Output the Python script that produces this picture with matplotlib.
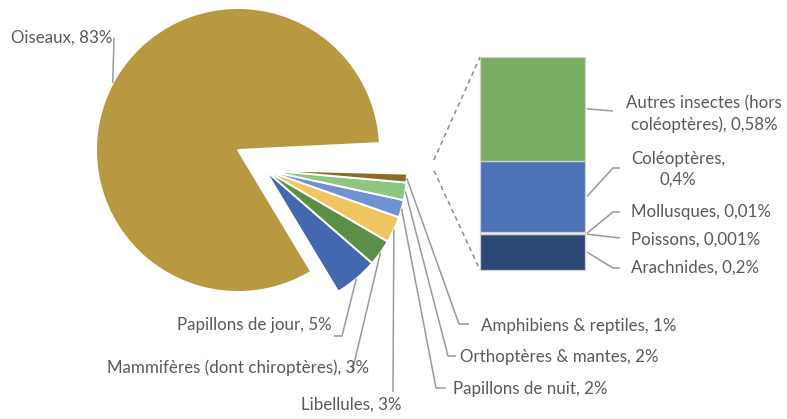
import numpy as np
import matplotlib
matplotlib.use("Agg")
import matplotlib.pyplot as plt

# ---- données ----
pie_labels = ["Oiseaux", "Papillons de jour", "Mammifères (dont chiroptères)", "Libellules",
              "Papillons de nuit", "Orthoptères & mantes", "Amphibiens & reptiles", "Autres"]
pie_values = [83, 5, 3, 3, 2, 2, 1, 1.191]
pie_text = ["83%", "5%", "3%", "3%", "2%", "2%", "1%", ""]
pie_colors = ["#B89841", "#4468B0", "#5B8F47", "#EEC55E", "#7092D2", "#8DC77F", "#8B6A2B", "none"]

bar_labels = ["Arachnides", "Poissons", "Mollusques", "Coléoptères", "Autres insectes (hors\ncoléoptères)"]
bar_values = [0.2, 0.001, 0.01, 0.4, 0.58]
bar_text = ["0,2%", "0,001%", "0,01%", "0,4%", "0,58%"]
bar_colors = ["#2C4875", "#FFFFFF", "#FFFFFF", "#4E72B8", "#78AD62"]

W, H = 787, 419
TXT = "#595959"
LINE = "#999999"
FONT = "Lato"
FS = 12.2


def Y(y):
    # coordonnées image -> coordonnées données
    return H - y


fig = plt.figure(figsize=(W / 100, H / 100), dpi=100)
ax = fig.add_axes([0, 0, 1, 1])

R = 142
wedges, _ = ax.pie(pie_values, colors=pie_colors, startangle=2.8, counterclock=True,
                   center=(238, Y(150)), radius=R,
                   wedgeprops=dict(edgecolor="white", linewidth=1.4))
wedges[-1].set_edgecolor("none")

# groupe des petites parts décalé
for w in wedges[1:-1]:
    w.set_center((265, Y(170)))
wedges[-1].set_center((292, Y(167)))


def arc_point(w, ang=None):
    if ang is None:
        ang = (w.theta1 + w.theta2) / 2
    cx, cy = w.center
    a = np.deg2rad(ang)
    return cx + w.r * np.cos(a), cy + w.r * np.sin(a)


# étiquettes du camembert : (points intermédiaires image, position texte, alignement)
pie_layout = [
    ([(114, 38)], (112, 38), "right"),
    ([(342, 336), (334, 336)], (332, 325), "right"),
    ([(352, 372)], (369, 368), "right"),
    ([(393, 392)], (351, 405), "center"),
    ([(436, 388), (446, 388)], (453, 389), "left"),
    ([(448, 356), (456, 356)], (460, 357), "left"),
    ([(459, 324), (469, 324)], (481, 326), "left"),
]
for i, (pts, tpos, ha) in enumerate(pie_layout):
    x0, y0 = arc_point(wedges[i])
    xs = [x0] + [p[0] for p in pts]
    ys = [y0] + [Y(p[1]) for p in pts]
    ax.plot(xs, ys, color=LINE, lw=1.1, solid_capstyle="butt")
    ax.text(tpos[0], Y(tpos[1]), f"{pie_labels[i]}, {pie_text[i]}", ha=ha, va="center",
            fontsize=FS, color=TXT, family=FONT)

# barre empilée
scale = 213 / sum(bar_values)
bar_x, bar_w = 532.5, 105
bottoms = Y(270) + np.concatenate([[0], np.cumsum(bar_values)[:-1]]) * scale
heights = np.array(bar_values) * scale
ax.bar([bar_x] * len(bar_values), heights, width=bar_w, bottom=bottoms,
       color=bar_colors, edgecolor="#D0D0D0", linewidth=0.9)

# lignes pointillées de liaison
p_top = arc_point(wedges[-1], wedges[-1].theta2)
p_bot = arc_point(wedges[-1], wedges[-1].theta1)
left = bar_x - bar_w / 2
ax.plot([p_top[0], left], [p_top[1], bottoms[-1] + heights[-1]], ls=(0, (3, 2.5)), color="#8C8C8C", lw=1.1)
ax.plot([p_bot[0], left], [p_bot[1], bottoms[0]], ls=(0, (3, 2.5)), color="#8C8C8C", lw=1.1)

# étiquettes de la barre
right = bar_x + bar_w / 2
bar_layout = [
    ([(613, 268), (620, 268)], (631, 268), "left"),
    ([(620, 238)], (631, 240), "left"),
    ([(613, 212), (620, 212)], (631, 212), "left"),
    ([(613, 168), (620, 168)], (678, 169), "center"),
    ([(613, 111)], (704, 114), "center"),
]
for i, (pts, tpos, ha) in enumerate(bar_layout):
    y0 = bottoms[i] + heights[i] / 2
    xs = [right + 2] + [p[0] for p in pts]
    ys = [y0] + [Y(p[1]) for p in pts]
    ax.plot(xs, ys, color=LINE, lw=1.1, solid_capstyle="butt")
    if i == 3:
        s = f"{bar_labels[i]},\n{bar_text[i]}"
    else:
        s = f"{bar_labels[i]}, {bar_text[i]}"
    ax.text(tpos[0], Y(tpos[1]), s, ha=ha, va="center", multialignment="center",
            fontsize=FS, color=TXT, family=FONT, linespacing=1.35)

ax.set_xlim(0, W)
ax.set_ylim(0, H)
ax.set_aspect("equal")
ax.axis("off")

plt.savefig("out.png", dpi=100)
plt.close()
